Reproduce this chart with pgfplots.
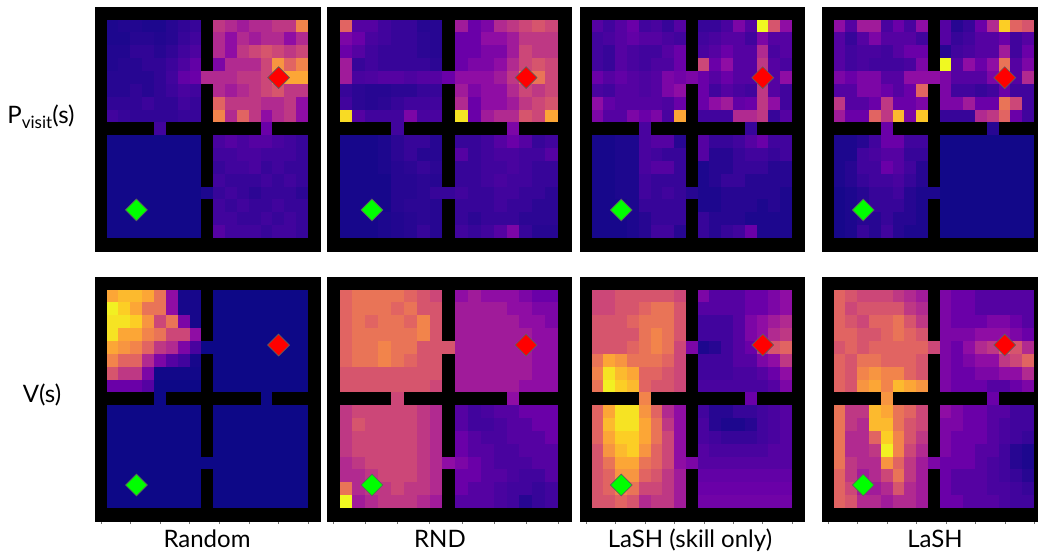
\documentclass[border=0pt]{standalone}
\usepackage{pgfplots}
\pgfplotsset{compat=1.18}
\usepackage{fontspec}
\setmainfont{Lato}
% rectangular cell marks (cell width x cell height, in pt)
\pgfdeclareplotmark{cellA}{\pgfpathrectangle{\pgfqpoint{-5.921pt}{-6.421pt}}{\pgfqpoint{11.842pt}{12.842pt}}\pgfusepathqfillstroke}
\pgfdeclareplotmark{cellB}{\pgfpathrectangle{\pgfqpoint{-6.421pt}{-6.421pt}}{\pgfqpoint{12.842pt}{12.842pt}}\pgfusepathqfillstroke}
\pgfdeclareplotmark{cellC}{\pgfpathrectangle{\pgfqpoint{-5.895pt}{-6.421pt}}{\pgfqpoint{11.789pt}{12.842pt}}\pgfusepathqfillstroke}
\pgfplotsset{
  colormap={plasmaw}{rgb255=(0,0,0) rgb255=(0,0,0) rgb255=(13,8,135) rgb255=(65,4,157) rgb255=(106,0,168) rgb255=(143,13,164) rgb255=(177,42,144) rgb255=(204,71,120) rgb255=(225,100,98) rgb255=(242,132,75) rgb255=(252,166,54) rgb255=(252,206,37) rgb255=(240,249,33)},
  gw/.style={scale only axis, anchor=north west, xmin=-0.5, xmax=18.5, ymin=-0.5, ymax=18.5, y dir=reverse,
    axis line style={draw=none}, colormap name=plasmaw, point meta min=-2, point meta max=10,
    xtick=\empty, ytick=\empty, clip=true},
  gwb/.style={gw, xtick={0,2.5,5,7.5,10,12.5,15,17.5}, xticklabels={}, xtick pos=bottom,
    tick align=outside, major tick length=3pt, tick style={black!55, line width=0.5pt}},
  cellplot/.style={scatter, only marks, mark=#1, point meta=explicit,
    scatter/use mapped color={draw=mapped color, fill=mapped color}, mark options={line width=0.4pt}},
  table/gx/.style={header=false, row sep=\\, meta index=0,
    x expr={\coordindex-19*floor((\coordindex+0.5)/19)}, y expr={floor((\coordindex+0.5)/19)}},
  mgoal/.style={only marks, mark=square*, mark size=7.7pt, mark options={rotate=45, fill=red, draw={rgb,255:red,95;green,95;blue,95}, line width=0.7pt}},
  mstart/.style={only marks, mark=square*, mark size=7.7pt, mark options={rotate=45, fill={rgb,255:red,0;green,255;blue,0}, draw={rgb,255:red,95;green,95;blue,95}, line width=0.7pt}},
}
\begin{document}
\begin{tikzpicture}[font=\fontsize{24}{28}\selectfont]
\path[use as bounding box] (0,0) rectangle (1038pt,-558pt);
% ---------------- Panel 1: Random P_visit
\begin{axis}[gw, at={(95pt,-7pt)}, width=225pt, height=244pt]
\addplot[cellplot=cellA] table[gx] {
-2\\-2\\-2\\-2\\-2\\-2\\-2\\-2\\-2\\-2\\-2\\-2\\-2\\-2\\-2\\-2\\-2\\-2\\-2\\
-2\\0.3\\0.4\\0.4\\0.3\\0.3\\0.5\\0.7\\0.8\\-2\\4.5\\4\\3.5\\4\\4\\4.5\\4.5\\7\\-2\\
-2\\0.3\\0.3\\0.5\\0.5\\0.4\\0.5\\0.8\\1\\-2\\4\\3\\4\\3.5\\4\\4\\3\\4\\-2\\
-2\\0.4\\0.4\\0.7\\0.7\\0.5\\0.7\\1\\1.3\\-2\\4\\3\\4.5\\5\\5.5\\5\\4.5\\5\\-2\\
-2\\0.4\\0.5\\0.5\\0.7\\0.7\\0.9\\1.3\\1.8\\-2\\2.5\\4\\4\\4\\5\\7.5\\6\\7\\-2\\
-2\\0.5\\0.5\\0.5\\0.5\\0.7\\1\\1.8\\2\\4\\4\\4\\4.5\\4.5\\5\\7\\8\\8\\-2\\
-2\\0.5\\0.5\\0.7\\0.5\\0.7\\0.9\\1.2\\1\\-2\\4\\3.5\\4\\4.5\\5\\5.5\\4.5\\4.5\\-2\\
-2\\0.7\\0.7\\0.7\\0.9\\0.7\\0.7\\1\\0.8\\-2\\6\\4.5\\4.5\\4.5\\4\\4\\4.5\\3\\-2\\
-2\\1\\0.8\\0.7\\0.7\\0.7\\0.7\\0.8\\0.8\\-2\\7\\4\\6\\4.5\\3\\4\\4.5\\3\\-2\\
-2\\-2\\-2\\-2\\-2\\1\\-2\\-2\\-2\\-2\\-2\\-2\\-2\\-2\\2\\-2\\-2\\-2\\-2\\
-2\\0.1\\0.1\\0.1\\0.1\\0.1\\0.1\\0.1\\0.1\\-2\\1.2\\1.5\\1.2\\1.5\\1.5\\1.2\\1\\0.8\\-2\\
-2\\0.1\\0.1\\0.1\\0.1\\0.1\\0.1\\0.1\\0.1\\-2\\1\\1\\1.2\\1.2\\1\\1\\1\\0.8\\-2\\
-2\\0.1\\0.1\\0.1\\0.1\\0.1\\0.1\\0.1\\0.1\\-2\\0.8\\1\\1\\1.2\\0.8\\1\\0.8\\0.8\\-2\\
-2\\0.1\\0.1\\0.1\\0.1\\0.1\\0.1\\0.1\\0.1\\-2\\1\\0.8\\0.8\\0.8\\1\\0.8\\1\\0.8\\-2\\
-2\\0.1\\0.1\\0.1\\0.1\\0.1\\0.1\\0.1\\0.1\\0.3\\0.8\\1\\0.8\\0.6\\0.8\\0.8\\0.8\\0.6\\-2\\
-2\\0.1\\0.1\\0.1\\0.1\\0.1\\0.1\\0.1\\0.1\\-2\\1\\0.8\\1\\0.8\\0.8\\1\\0.8\\0.8\\-2\\
-2\\0.1\\0.1\\0.1\\0.1\\0.1\\0.1\\0.1\\0.1\\-2\\1\\1\\0.8\\0.8\\1\\0.8\\1\\0.8\\-2\\
-2\\0.1\\0.1\\0.1\\0.1\\0.1\\0.1\\0.1\\0.1\\-2\\1.5\\1\\1\\1\\0.8\\1\\1\\0.8\\-2\\
-2\\-2\\-2\\-2\\-2\\-2\\-2\\-2\\-2\\-2\\-2\\-2\\-2\\-2\\-2\\-2\\-2\\-2\\-2\\
};
\addplot[mgoal] coordinates {(15,5)};
\addplot[mstart] coordinates {(3,15.3)};
\end{axis}
% ---------------- Panel 2: RND P_visit
\begin{axis}[gw, at={(327pt,-7pt)}, width=244pt, height=244pt]
\addplot[cellplot=cellB] table[gx] {
-2\\-2\\-2\\-2\\-2\\-2\\-2\\-2\\-2\\-2\\-2\\-2\\-2\\-2\\-2\\-2\\-2\\-2\\-2\\
-2\\6\\1.5\\1.5\\1\\0.8\\0.8\\0.5\\0.5\\-2\\3.5\\2\\2.5\\4\\4.5\\5\\5.5\\5\\-2\\
-2\\2.5\\2\\1.2\\1\\0.8\\0.8\\0.6\\0.5\\-2\\2\\2\\3\\3\\3.5\\4.5\\4.5\\4.5\\-2\\
-2\\2\\1.5\\1\\0.8\\0.8\\0.8\\0.6\\0.5\\-2\\2\\2\\2.5\\2.5\\3.5\\5\\4.5\\4.5\\-2\\
-2\\3.5\\0.8\\1\\0.8\\0.8\\0.8\\0.8\\0.6\\-2\\2\\2.5\\2.5\\3\\4\\5\\5.5\\5\\-2\\
-2\\3.5\\1.2\\1.3\\1.5\\1.5\\1.3\\1.5\\1.5\\2\\3\\3\\3\\3.5\\4.5\\7\\6.5\\5\\-2\\
-2\\0.8\\0.6\\0.5\\0.5\\0.6\\0.6\\0.8\\0.8\\-2\\3.5\\2.5\\3\\3\\4\\5\\4.5\\5\\-2\\
-2\\1\\0.6\\0.5\\0.6\\0.8\\1\\1\\1\\-2\\4\\2\\3\\3\\3.5\\4.5\\5\\5.5\\-2\\
-2\\9.3\\1.5\\1\\1\\1\\2.5\\1.2\\1.2\\-2\\9.5\\2\\3.5\\4\\4\\5.5\\5\\8\\-2\\
-2\\-2\\-2\\-2\\-2\\1\\-2\\-2\\-2\\-2\\-2\\-2\\-2\\-2\\2.5\\-2\\-2\\-2\\-2\\
-2\\0.2\\0.2\\0.2\\0.3\\0.6\\0.8\\0.8\\0.5\\-2\\0.8\\0.8\\1\\1.5\\2\\1.5\\0.8\\1\\-2\\
-2\\0.2\\0.2\\0.2\\0.3\\0.6\\0.8\\0.5\\0.5\\-2\\1.5\\0.8\\1\\1.2\\1.2\\1\\1\\1.5\\-2\\
-2\\0.2\\0.2\\0.2\\0.3\\0.5\\0.6\\0.8\\0.6\\-2\\0.8\\0.8\\1\\1\\1.2\\1\\0.8\\0.8\\-2\\
-2\\0.2\\0.2\\0.2\\0.2\\0.5\\0.5\\0.6\\0.5\\-2\\0.8\\0.8\\1\\1.2\\1\\1\\0.8\\0.8\\-2\\
-2\\0.2\\0.2\\0.2\\0.2\\0.5\\0.5\\0.6\\0.8\\0.8\\1\\0.8\\0.8\\1\\1\\0.8\\0.8\\0.6\\-2\\
-2\\0.2\\0.2\\0.2\\0.2\\0.5\\0.6\\0.6\\0.5\\-2\\0.8\\0.8\\0.8\\1\\0.8\\0.8\\0.6\\0.6\\-2\\
-2\\0.2\\0.2\\0.2\\0.3\\0.4\\0.5\\0.6\\0.5\\-2\\0.8\\0.6\\0.8\\0.8\\0.8\\0.6\\0.6\\0.6\\-2\\
-2\\0.2\\0.2\\0.2\\0.3\\0.4\\0.5\\0.8\\0.5\\-2\\1\\0.8\\1\\1.5\\2.5\\0.8\\0.5\\0.5\\-2\\
-2\\-2\\-2\\-2\\-2\\-2\\-2\\-2\\-2\\-2\\-2\\-2\\-2\\-2\\-2\\-2\\-2\\-2\\-2\\
};
\addplot[mgoal] coordinates {(15,5)};
\addplot[mstart] coordinates {(3,15.3)};
\end{axis}
% ---------------- Panel 3: LaSH (skill only) P_visit
\begin{axis}[gw, at={(580pt,-7pt)}, width=224pt, height=244pt]
\addplot[cellplot=cellC] table[gx] {
-2\\-2\\-2\\-2\\-2\\-2\\-2\\-2\\-2\\-2\\-2\\-2\\-2\\-2\\-2\\-2\\-2\\-2\\-2\\
-2\\1.5\\1\\1.5\\2\\1\\1.2\\0.8\\1.5\\-2\\0.8\\0.8\\1.2\\2.5\\1.5\\10\\5.5\\3\\-2\\
-2\\1\\1.2\\1.5\\1.8\\1.5\\1.5\\1.2\\1\\-2\\1\\1.2\\1.5\\1.5\\1\\2.5\\1.5\\1.5\\-2\\
-2\\1\\0.8\\1.5\\1.2\\1\\1\\1.5\\2\\-2\\1.2\\1.5\\2\\1.5\\1.5\\4\\1.2\\1.5\\-2\\
-2\\1\\0.8\\1.5\\1.2\\1\\1.3\\1.3\\2\\-2\\5\\2\\3\\1.5\\1.5\\4.5\\1.5\\1.2\\-2\\
-2\\2\\1.5\\1.8\\1.5\\1.3\\1.5\\2.5\\2.2\\2.5\\2\\1.5\\2\\1.5\\1.5\\4.5\\1.5\\3\\-2\\
-2\\1.2\\1\\1.5\\1.5\\1.3\\1.5\\2.5\\3\\-2\\2\\1\\1.5\\1.2\\1\\4.5\\1.5\\1\\-2\\
-2\\3\\1.8\\1.5\\1.5\\1.5\\1.5\\1.3\\2\\-2\\2\\3\\3.5\\1.8\\2\\4.5\\3\\1\\-2\\
-2\\2.5\\1.5\\1.5\\2.5\\2\\2.5\\1.2\\8\\-2\\1\\1\\1\\4\\4\\4.5\\0.8\\1.5\\-2\\
-2\\-2\\-2\\-2\\-2\\1.2\\-2\\-2\\-2\\-2\\-2\\-2\\-2\\-2\\0.8\\-2\\-2\\-2\\-2\\
-2\\0.2\\0.2\\0.3\\0.3\\1.2\\1.5\\1.5\\0.5\\-2\\1.5\\0.8\\0.8\\1\\1.5\\2\\1\\1\\-2\\
-2\\0.2\\0.2\\0.3\\0.3\\1.2\\1\\0.8\\0.8\\-2\\1.5\\0.5\\0.5\\0.8\\1\\1\\0.8\\1\\-2\\
-2\\0.2\\0.2\\0.3\\0.3\\1.2\\1.5\\1.5\\0.8\\-2\\0.3\\0.5\\0.5\\0.8\\0.8\\0.8\\0.5\\0.5\\-2\\
-2\\0.2\\0.2\\0.3\\0.3\\1\\0.8\\0.8\\0.8\\-2\\0.3\\0.5\\0.8\\0.8\\0.5\\0.5\\0.5\\0.5\\-2\\
-2\\0.2\\0.2\\0.3\\0.3\\1\\0.8\\1\\0.8\\0.5\\0.3\\0.3\\0.5\\0.5\\0.5\\0.5\\0.5\\0.3\\-2\\
-2\\0.2\\0.2\\0.2\\0.3\\0.8\\0.8\\0.8\\0.8\\-2\\0.3\\0.3\\0.5\\0.5\\0.5\\0.3\\0.5\\0.3\\-2\\
-2\\0.2\\0.2\\0.2\\0.3\\0.5\\0.8\\0.8\\0.8\\-2\\0.8\\0.5\\0.5\\0.5\\0.3\\0.3\\0.3\\0.3\\-2\\
-2\\0.2\\0.2\\0.2\\0.3\\0.5\\1\\1\\0.5\\-2\\0.8\\0.5\\0.8\\1\\2\\0.3\\0.3\\0.3\\-2\\
-2\\-2\\-2\\-2\\-2\\-2\\-2\\-2\\-2\\-2\\-2\\-2\\-2\\-2\\-2\\-2\\-2\\-2\\-2\\
};
\addplot[mgoal] coordinates {(15,5)};
\addplot[mstart] coordinates {(3,15.3)};
\end{axis}
% ---------------- Panel 4: LaSH P_visit
\begin{axis}[gw, at={(822pt,-7pt)}, width=224pt, height=244pt]
\addplot[cellplot=cellC] table[gx] {
-2\\-2\\-2\\-2\\-2\\-2\\-2\\-2\\-2\\-2\\-2\\-2\\-2\\-2\\-2\\-2\\-2\\-2\\-2\\
-2\\3\\1.5\\3.5\\3.5\\1.2\\2\\1.2\\3\\-2\\1.5\\0.5\\0.8\\2\\4\\9\\6\\5.5\\-2\\
-2\\1.5\\0.8\\1.5\\2.5\\1.5\\1.5\\1.5\\1\\-2\\1.5\\0.8\\1\\1.5\\1.5\\2\\1\\1.5\\-2\\
-2\\1.5\\1\\1.2\\1.2\\1\\1.5\\2\\2\\-2\\0.5\\1\\1.2\\1.5\\1.5\\3.5\\1\\2\\-2\\
-2\\1.5\\1\\1.2\\1\\1\\1\\1.2\\2.5\\-2\\10\\1.5\\3\\2\\3\\6.5\\1.5\\2.5\\-2\\
-2\\2.5\\2\\2.5\\2.5\\1.5\\1.5\\3\\3\\3\\2.5\\1.5\\1.5\\1.5\\2.5\\6\\1.5\\4\\-2\\
-2\\1.5\\1.5\\2.5\\2.5\\2\\1.5\\2\\6\\-2\\2.5\\1\\1\\0.8\\1\\2\\1\\1\\-2\\
-2\\4.5\\1.5\\1.5\\2\\4.5\\2\\2\\2.5\\-2\\2.5\\2.5\\3.5\\2\\2\\6.5\\5\\1\\-2\\
-2\\3.5\\2\\2\\6\\4.5\\8.5\\2.5\\8.8\\-2\\0.8\\0.8\\0.8\\4\\4.5\\6\\2\\1\\-2\\
-2\\-2\\-2\\-2\\-2\\2\\-2\\-2\\-2\\-2\\-2\\-2\\-2\\-2\\0.5\\-2\\-2\\-2\\-2\\
-2\\0.3\\0.3\\0.5\\1\\2\\2\\1\\1\\-2\\0.1\\0.1\\0.1\\0.1\\0.1\\0.1\\0.1\\0.1\\-2\\
-2\\0.3\\0.3\\1\\1.2\\1.5\\1.5\\0.8\\0.8\\-2\\0.1\\0.1\\0.1\\0.1\\0.1\\0.1\\0.1\\0.1\\-2\\
-2\\0.3\\0.5\\1\\1\\2\\1.5\\1\\0.5\\-2\\0.1\\0.1\\0.1\\0.1\\0.1\\0.1\\0.1\\0.1\\-2\\
-2\\0.3\\0.5\\0.8\\1\\1\\1.2\\0.8\\0.5\\-2\\0.1\\0.1\\0.1\\0.1\\0.1\\0.1\\0.1\\0.1\\-2\\
-2\\0.2\\0.3\\0.5\\0.8\\0.8\\1\\0.5\\0.3\\0.3\\0.1\\0.1\\0.1\\0.1\\0.1\\0.1\\0.1\\0.1\\-2\\
-2\\0.2\\0.3\\0.5\\0.8\\0.8\\0.8\\0.5\\0.3\\-2\\0.1\\0.1\\0.1\\0.1\\0.1\\0.1\\0.1\\0.1\\-2\\
-2\\0.2\\0.3\\0.5\\0.5\\0.8\\0.5\\0.5\\0.3\\-2\\0.1\\0.1\\0.1\\0.1\\0.1\\0.1\\0.1\\0.1\\-2\\
-2\\0.2\\0.3\\0.8\\0.5\\1\\0.5\\0.3\\0.3\\-2\\0.1\\0.1\\0.1\\0.1\\0.1\\0.1\\0.1\\0.1\\-2\\
-2\\-2\\-2\\-2\\-2\\-2\\-2\\-2\\-2\\-2\\-2\\-2\\-2\\-2\\-2\\-2\\-2\\-2\\-2\\
};
\addplot[mgoal] coordinates {(15,5)};
\addplot[mstart] coordinates {(3,15.3)};
\end{axis}
% ---------------- Panel 5: Random V
\begin{axis}[gwb, at={(95pt,-277pt)}, width=225pt, height=244pt]
\addplot[cellplot=cellA] table[gx] {
-2\\-2\\-2\\-2\\-2\\-2\\-2\\-2\\-2\\-2\\-2\\-2\\-2\\-2\\-2\\-2\\-2\\-2\\-2\\
-2\\8\\8.5\\8.5\\8\\6.5\\3\\0.2\\0.2\\-2\\0\\0\\0\\0\\0\\0\\0\\0\\-2\\
-2\\9.8\\9\\8\\6.5\\6.5\\3\\0.2\\0.2\\-2\\0\\0\\0\\0\\0\\0\\0\\0\\-2\\
-2\\9.5\\9.5\\9\\7.5\\5\\6.5\\2.5\\0.2\\-2\\0\\0\\0\\0\\0\\0\\0\\0\\-2\\
-2\\9.5\\8\\8\\7\\6.5\\5\\5\\3\\-2\\0\\0\\0\\0\\0\\0\\0\\0\\-2\\
-2\\8\\7.5\\7\\6\\4.5\\4\\2.5\\1.2\\0\\0\\0\\0\\0\\0\\0\\0\\0\\-2\\
-2\\7\\6\\6\\4\\2.5\\1.5\\1\\0.2\\-2\\0\\0\\0\\0\\0\\0\\0\\0\\-2\\
-2\\5.5\\4.5\\4.5\\2.5\\0.1\\0.1\\0.1\\0.1\\-2\\0\\0\\0\\0\\0\\0\\0\\0\\-2\\
-2\\2\\2\\2\\1.5\\0\\0\\0\\0\\-2\\0\\0\\0\\0\\0\\0\\0\\0\\-2\\
-2\\-2\\-2\\-2\\-2\\0\\-2\\-2\\-2\\-2\\-2\\-2\\-2\\-2\\0\\-2\\-2\\-2\\-2\\
-2\\0\\0\\0\\0\\0\\0\\0\\0\\-2\\0\\0\\0\\0\\0\\0\\0\\0\\-2\\
-2\\0\\0\\0\\0\\0\\0\\0\\0\\-2\\0\\0\\0\\0\\0\\0\\0\\0\\-2\\
-2\\0\\0\\0\\0\\0\\0\\0\\0\\-2\\0\\0\\0\\0\\0\\0\\0\\0\\-2\\
-2\\0\\0\\0\\0\\0\\0\\0\\0\\-2\\0\\0\\0\\0\\0\\0\\0\\0\\-2\\
-2\\0\\0\\0\\0\\0\\0\\0\\0\\0\\0\\0\\0\\0\\0\\0\\0\\0\\-2\\
-2\\0\\0\\0\\0\\0\\0\\0\\0\\-2\\0\\0\\0\\0\\0\\0\\0\\0\\-2\\
-2\\0\\0\\0\\0\\0\\0\\0\\0\\-2\\0\\0\\0\\0\\0\\0\\0\\0\\-2\\
-2\\0\\0\\0\\0\\0\\0\\0\\0\\-2\\0\\0\\0\\0\\0\\0\\0\\0\\-2\\
-2\\-2\\-2\\-2\\-2\\-2\\-2\\-2\\-2\\-2\\-2\\-2\\-2\\-2\\-2\\-2\\-2\\-2\\-2\\
};
\addplot[mgoal] coordinates {(15,4.8)};
\addplot[mstart] coordinates {(3,15.7)};
\end{axis}
% ---------------- Panel 6: RND V
\begin{axis}[gwb, at={(327pt,-277pt)}, width=244pt, height=244pt]
\addplot[cellplot=cellB] table[gx] {
-2\\-2\\-2\\-2\\-2\\-2\\-2\\-2\\-2\\-2\\-2\\-2\\-2\\-2\\-2\\-2\\-2\\-2\\-2\\
-2\\6\\6.5\\6.5\\6.5\\6.5\\6\\5.5\\5\\-2\\3\\3.5\\3\\3\\3\\2.5\\2\\2\\-2\\
-2\\6\\6.5\\6.5\\6.5\\6\\6.5\\5.5\\5.5\\-2\\3.5\\3.5\\3.5\\3.5\\3\\3\\2.5\\2.5\\-2\\
-2\\6\\6.5\\6\\6.5\\6.5\\6\\7\\5.5\\-2\\3.5\\3.5\\3.5\\3.5\\3.5\\3\\3\\2.5\\-2\\
-2\\6\\6.5\\6.5\\6.5\\6.5\\6.5\\7\\5.5\\-2\\3.5\\3.5\\3.5\\3.5\\3.5\\3.5\\3\\3\\-2\\
-2\\6\\6.5\\6.5\\7\\6.5\\6.5\\5.5\\5.5\\5.5\\3.5\\3.5\\3.5\\3.5\\3.5\\3.5\\3\\3\\-2\\
-2\\6\\6.5\\6.5\\7\\6.5\\6\\5.5\\5.5\\-2\\3.5\\3.5\\3.5\\3.5\\3.5\\3.5\\3\\3\\-2\\
-2\\5.5\\5.5\\5.5\\5.5\\5.5\\5.5\\5.5\\5.5\\-2\\3.5\\3.5\\3.5\\3.5\\3.5\\3.5\\3\\3\\-2\\
-2\\5.5\\5.5\\5.5\\5.5\\5.5\\5.5\\5.5\\5\\-2\\3.5\\3.5\\3.5\\3.5\\3.5\\3\\3\\3\\-2\\
-2\\-2\\-2\\-2\\-2\\5\\-2\\-2\\-2\\-2\\-2\\-2\\-2\\-2\\3\\-2\\-2\\-2\\-2\\
-2\\4.5\\5\\5\\5\\5\\5\\4.5\\4\\-2\\1.5\\1\\1.2\\1.5\\1.5\\2\\2\\2\\-2\\
-2\\4.5\\5.5\\5\\5\\5\\5\\4.5\\4\\-2\\1.5\\1\\1\\1.2\\1.5\\1.5\\2\\2\\-2\\
-2\\4.5\\5\\5\\5\\5\\5\\4.5\\4\\-2\\2\\1.5\\1.2\\1.2\\1.5\\1.5\\1.5\\2\\-2\\
-2\\4.5\\5\\5\\5\\5\\5\\4.5\\4\\-2\\2\\1.5\\1.5\\1.2\\1.2\\1.5\\1.5\\1.5\\-2\\
-2\\4\\4.5\\5\\5\\5\\5\\4.5\\4\\3\\2.5\\2\\1.5\\1.2\\1.2\\1.2\\1.5\\1.5\\-2\\
-2\\4\\4\\4.5\\5\\5\\5\\4.5\\4\\-2\\2\\2\\1.5\\1.5\\1.2\\1\\1\\1.5\\-2\\
-2\\6.5\\4\\4.5\\4.5\\5\\4.5\\4.5\\4\\-2\\2\\1.5\\1.5\\1.2\\1\\1\\0.8\\1\\-2\\
-2\\10\\3.5\\4\\4.5\\4.5\\4.5\\4\\3.5\\-2\\1.5\\1.5\\1.5\\1.2\\1\\0.5\\0.8\\1\\-2\\
-2\\-2\\-2\\-2\\-2\\-2\\-2\\-2\\-2\\-2\\-2\\-2\\-2\\-2\\-2\\-2\\-2\\-2\\-2\\
};
\addplot[mgoal] coordinates {(15,4.8)};
\addplot[mstart] coordinates {(3,15.7)};
\end{axis}
% ---------------- Panel 7: LaSH (skill only) V
\begin{axis}[gwb, at={(580pt,-277pt)}, width=224pt, height=244pt]
\addplot[cellplot=cellC] table[gx] {
-2\\-2\\-2\\-2\\-2\\-2\\-2\\-2\\-2\\-2\\-2\\-2\\-2\\-2\\-2\\-2\\-2\\-2\\-2\\
-2\\5\\5\\5.5\\5.5\\5.5\\5.5\\5.5\\5\\-2\\2.5\\1.5\\1.5\\1.5\\2\\2\\2.5\\3\\-2\\
-2\\5\\5\\5.5\\5.5\\6\\6.5\\6.5\\5.5\\-2\\1.5\\1.5\\1.5\\1.5\\2\\2\\2.5\\3\\-2\\
-2\\5.5\\5.5\\5.5\\6\\6.5\\6.5\\6.5\\5.5\\-2\\1\\1\\1\\1.5\\2.5\\3\\3.5\\4\\-2\\
-2\\5.5\\5.5\\5.5\\5.5\\6.5\\7\\6.5\\5.5\\-2\\1\\1\\1\\1.5\\2.5\\3\\4\\4.5\\-2\\
-2\\5.5\\5.5\\5.5\\6\\6.5\\7\\6.5\\5\\2.5\\0.3\\0.5\\1\\1.5\\2\\4.5\\5.5\\6\\-2\\
-2\\6.5\\8\\7.5\\6.5\\6.5\\6.5\\6\\5\\-2\\1\\1\\1\\1.5\\1.5\\2.5\\3\\4.5\\-2\\
-2\\7\\9.5\\8.5\\8\\6\\6\\5.5\\5\\-2\\1\\1\\1\\1.2\\1.2\\1.5\\2\\3\\-2\\
-2\\6.5\\9.8\\9\\8.5\\6\\5.5\\5.5\\5\\-2\\1.2\\1.2\\1.2\\1.2\\1.2\\1.2\\1.5\\2.5\\-2\\
-2\\-2\\-2\\-2\\-2\\7\\-2\\-2\\-2\\-2\\-2\\-2\\-2\\-2\\2\\-2\\-2\\-2\\-2\\
-2\\6\\8\\9.5\\9.5\\7.5\\6\\4\\3\\-2\\1\\0.5\\0.5\\0.8\\0.8\\1\\1.2\\1.5\\-2\\
-2\\6\\8.5\\9.5\\9.5\\8\\6.5\\4.5\\3\\-2\\1.2\\0.5\\0.3\\0.3\\0.5\\1\\1.2\\1.5\\-2\\
-2\\6\\8\\9\\9\\8\\6.5\\5\\3\\-2\\1.2\\1\\0.8\\0.8\\0.8\\1\\1.2\\1.5\\-2\\
-2\\5.5\\7.5\\8.5\\9\\7.5\\6\\5\\3\\-2\\1.5\\1.2\\1.2\\1.2\\1.2\\1.2\\1.5\\1.5\\-2\\
-2\\5.5\\6.5\\8\\8\\6.5\\6\\5\\3\\2.5\\1.5\\1.5\\1.5\\1.5\\1.5\\1.5\\1.5\\1.5\\-2\\
-2\\5.5\\6\\7.5\\7.5\\6\\5.5\\4.5\\3.5\\-2\\1.8\\1.8\\1.8\\1.8\\1.8\\1.8\\1.8\\1.8\\-2\\
-2\\5.5\\6\\7\\6.5\\5\\5\\4.5\\3.5\\-2\\2\\2\\2\\2\\2\\2\\2\\2\\-2\\
-2\\5.5\\5.5\\6\\5.5\\4\\4.5\\4.5\\3.5\\-2\\2.2\\2.2\\2.2\\2.2\\2.2\\2.2\\2.2\\2.2\\-2\\
-2\\-2\\-2\\-2\\-2\\-2\\-2\\-2\\-2\\-2\\-2\\-2\\-2\\-2\\-2\\-2\\-2\\-2\\-2\\
};
\addplot[mgoal] coordinates {(15,4.8)};
\addplot[mstart] coordinates {(3,15.7)};
\end{axis}
% ---------------- Panel 8: LaSH V
\begin{axis}[gwb, at={(822pt,-277pt)}, width=224pt, height=244pt]
\addplot[cellplot=cellC] table[gx] {
-2\\-2\\-2\\-2\\-2\\-2\\-2\\-2\\-2\\-2\\-2\\-2\\-2\\-2\\-2\\-2\\-2\\-2\\-2\\
-2\\6\\5.5\\5\\5\\5\\4.5\\4\\3.5\\-2\\2.5\\2\\2\\1.5\\1.5\\1.5\\1.5\\1.5\\-2\\
-2\\6\\5\\5.5\\5.5\\5.5\\5.5\\4.5\\4\\-2\\2.5\\2\\2\\1.5\\1.5\\1.5\\1.5\\1.5\\-2\\
-2\\6\\5.5\\5\\6\\6\\6.5\\5.5\\4.5\\-2\\2.5\\2\\2\\2\\2.5\\2.5\\2\\1.5\\-2\\
-2\\6\\6\\5.5\\5.5\\6\\6.5\\6\\5.5\\-2\\2.5\\2.5\\2.5\\3\\3\\3\\2.5\\2\\-2\\
-2\\5.5\\6\\5.5\\6\\6\\6\\6\\6\\5\\2.5\\2\\3\\4\\4.5\\6\\5.5\\4\\-2\\
-2\\6\\5.5\\6.5\\6.5\\6\\6\\6\\5.5\\-2\\2.5\\2\\2.5\\3\\3\\4.5\\5\\6\\-2\\
-2\\6\\5.5\\7\\7.5\\7\\7\\6\\5.5\\-2\\2.5\\2\\2\\2.5\\2.5\\3\\3\\4\\-2\\
-2\\6\\5.5\\7.5\\8\\7\\8.5\\8\\7.5\\-2\\2.5\\2\\2\\2\\1.5\\1.5\\2\\2.5\\-2\\
-2\\-2\\-2\\-2\\-2\\7.5\\-2\\-2\\-2\\-2\\-2\\-2\\-2\\-2\\2\\-2\\-2\\-2\\-2\\
-2\\6.5\\4.5\\4.5\\8.5\\8\\6.5\\6\\5\\-2\\3\\2.5\\2\\2\\1.5\\1.5\\1\\1\\-2\\
-2\\6.5\\4.5\\4\\8.5\\8.5\\6.5\\5.5\\5\\-2\\2.5\\2.5\\2\\2\\1.5\\1.2\\1\\1\\-2\\
-2\\6.5\\4\\4\\6\\9\\7\\5.5\\4.5\\-2\\2.5\\2\\2\\2\\1.5\\1.2\\1\\0.8\\-2\\
-2\\6.5\\4\\4\\4.5\\9.8\\7\\5\\4\\-2\\2.5\\2\\2\\1.5\\1.5\\1\\0.5\\0.3\\-2\\
-2\\6.5\\4.5\\4\\4\\7.5\\6\\4.5\\3.5\\2.5\\2\\2\\2\\1.5\\1.2\\1\\0.5\\0.3\\-2\\
-2\\6\\4.5\\3.5\\4\\5\\6.5\\4.5\\3.5\\-2\\2\\1.5\\1.5\\1.5\\1.2\\1\\0.8\\0.5\\-2\\
-2\\6\\5\\3.5\\3.5\\4\\5.5\\4\\3.5\\-2\\2\\1.5\\1.5\\1.5\\1.2\\1.2\\1\\0.8\\-2\\
-2\\6\\5.5\\4\\4\\3.5\\4\\4\\3.5\\-2\\2\\2\\1.5\\1.5\\1.5\\1.2\\1\\1\\-2\\
-2\\-2\\-2\\-2\\-2\\-2\\-2\\-2\\-2\\-2\\-2\\-2\\-2\\-2\\-2\\-2\\-2\\-2\\-2\\
};
\addplot[mgoal] coordinates {(15,4.8)};
\addplot[mstart] coordinates {(3,15.7)};
\end{axis}
% ---------------- labels
\node[anchor=base] at (207pt,-547pt) {Random};
\node[anchor=base] at (440pt,-547pt) {RND};
\node[anchor=base] at (690pt,-547pt) {LaSH (skill only)};
\node[anchor=base] at (935pt,-547pt) {LaSH};
\node[anchor=base] at (41pt,-123pt) {P\raisebox{-5pt}{\fontsize{17}{17}\selectfont visit}(s)};
\node[anchor=base] at (42pt,-402pt) {V(s)};
\end{tikzpicture}
\end{document}
